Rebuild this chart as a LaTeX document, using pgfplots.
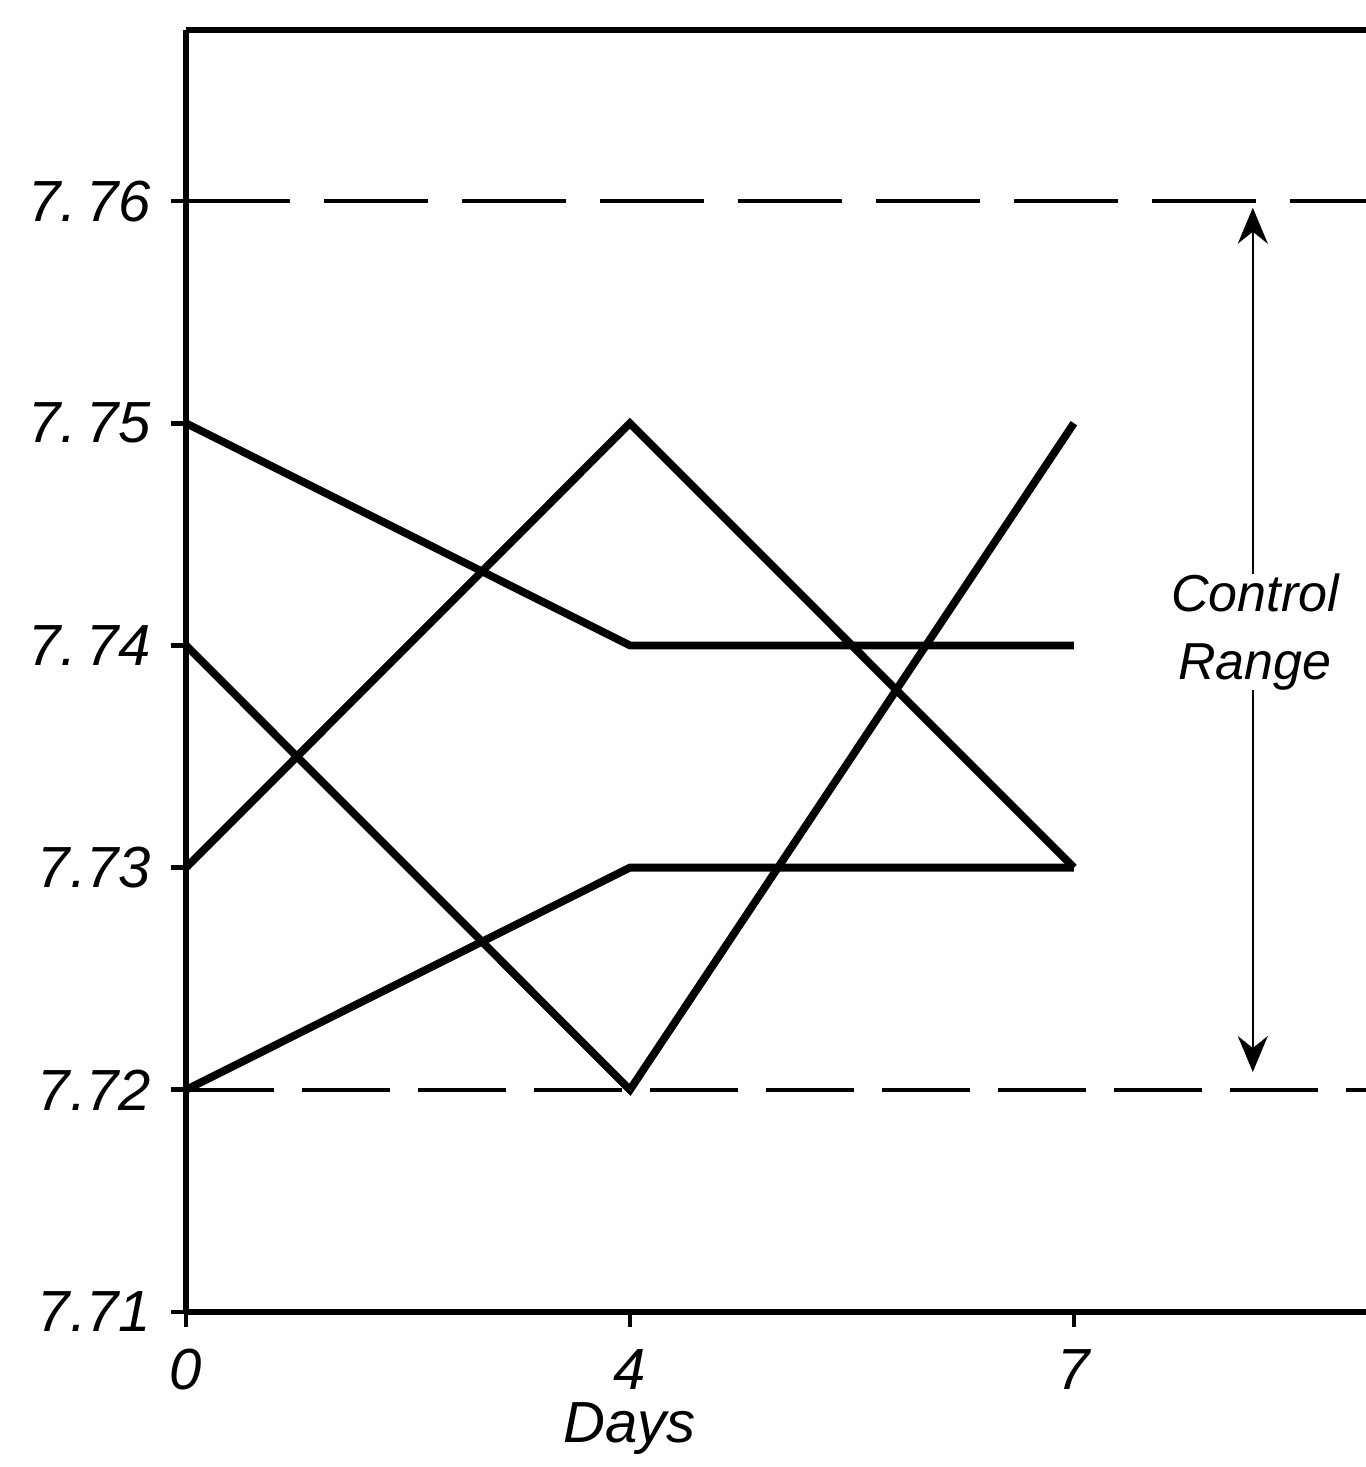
\documentclass[border=0pt]{standalone}
\usepackage{pgfplots}
\pgfplotsset{compat=1.18}
\usepackage{fontspec}
\setmainfont{Liberation Sans}
\usetikzlibrary{arrows.meta}
\newcommand{\lbl}{\itshape\fontsize{14.5}{16}\selectfont}
\begin{document}
\begin{tikzpicture}
\useasboundingbox (-46.5pt,-38.75pt) rectangle (295pt,328pt);
\begin{axis}[
  scale only axis, width=295pt, height=320.5pt,
  xmin=0, xmax=2.658, ymin=7.71, ymax=7.7677,
  axis x line*=bottom, axis y line*=left,
  axis line style={line width=1.3pt, black},
  xtick={0,1,2}, xticklabels={0,4,7},
  ytick={7.71,7.72,7.73,7.74,7.75,7.76},
  yticklabels={7.71,7.72,7.73,7.\,74,7.\,75,7.\,76},
  tick align=outside, major tick length=3.75pt,
  tick style={line width=1.2pt, black},
  ticklabel style={font=\lbl},
  yticklabel style={xshift=-1.5pt},
  xticklabel style={yshift=-2pt},
  xlabel={Days},
  xlabel style={font=\lbl, at={(axis description cs:0.376,0)}, anchor=north, yshift=-19pt},
  clip=false,
]
% control limits
\addplot[black, line width=1.1pt, dash pattern=on 26pt off 8.5pt] coordinates {(0,7.76) (2.658,7.76)};
\addplot[black, line width=1.1pt, dash pattern=on 22pt off 7pt] coordinates {(0,7.72) (2.658,7.72)};
% series
\addplot[black, line width=1.95pt] coordinates {(0,7.75) (1,7.74) (2,7.74)};
\addplot[black, line width=1.95pt] coordinates {(0,7.73) (1,7.75) (2,7.73)};
\addplot[black, line width=1.95pt] coordinates {(0,7.74) (1,7.72) (2,7.75)};
\addplot[black, line width=1.95pt] coordinates {(0,7.72) (1,7.73) (2,7.73)};
% top border
\draw[line width=1.3pt] (rel axis cs:0,1) -- (rel axis cs:1,1);
% control range annotation
\draw[line width=0.55pt, -{Stealth[length=9pt, width=7.5pt, inset=3pt]}] (axis cs:2.403,7.7432) -- (axis cs:2.403,7.7597);
\draw[line width=0.55pt, -{Stealth[length=9pt, width=7.5pt, inset=3pt]}] (axis cs:2.403,7.7380) -- (axis cs:2.403,7.7208);
\node[font=\itshape\fontsize{13}{15}\selectfont, align=center, inner sep=0pt] at (axis cs:2.408,7.7406) {Control\\[2pt]Range};
\end{axis}
\end{tikzpicture}
\end{document}
